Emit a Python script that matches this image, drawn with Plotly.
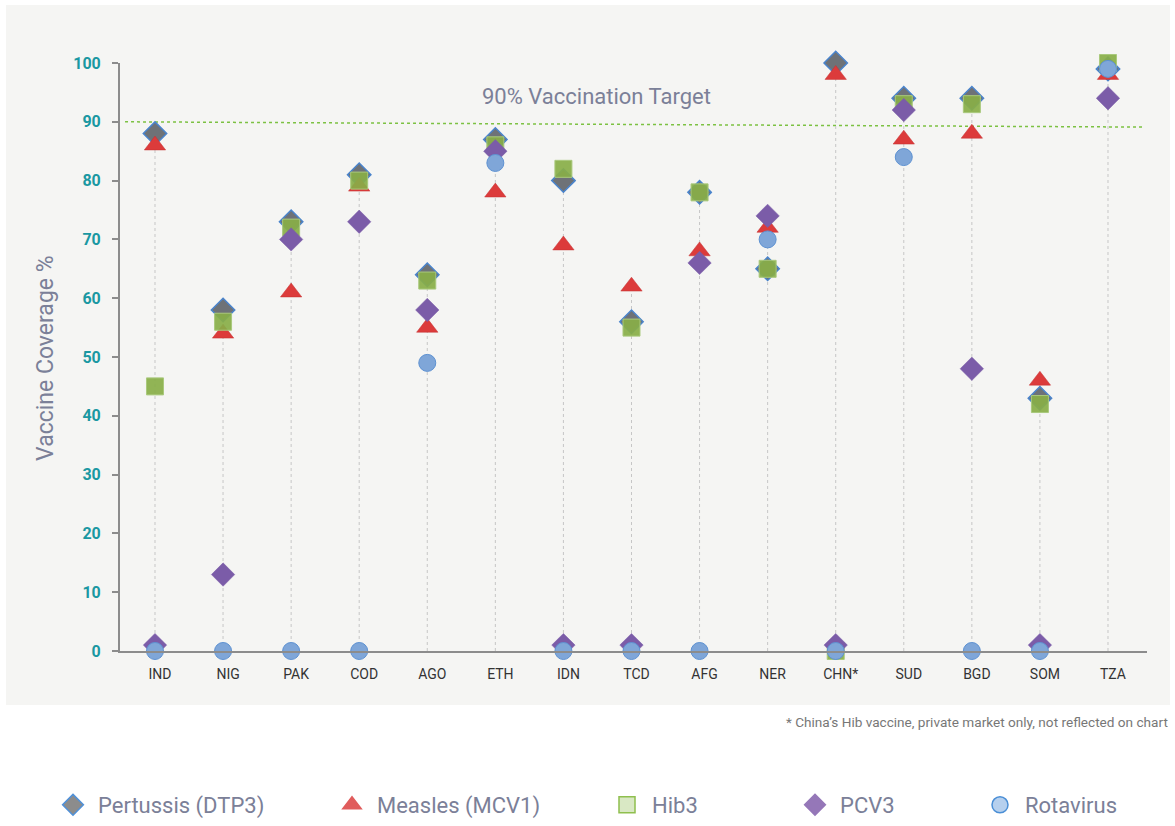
import plotly.graph_objects as go

countries = ["IND", "NIG", "PAK", "COD", "AGO", "ETH", "IDN", "TCD", "AFG", "NER", "CHN*", "SUD", "BGD", "SOM", "TZA"]
pertussis = [88, 58, 73, 81, 64, 87, 80, 56, 78, 65, 100, 94, 94, 43, 99]
measles = [86, 54, 61, 79, 55, 78, 69, 62, 68, 72, 98, 87, 88, 46, 98]
hib3 = [45, 56, 72, 80, 63, 86, 82, 55, 78, 65, 0, 93, 93, 42, 100]
pcv3 = [1, 13, 70, 73, 58, 85, 1, 1, 66, 74, 1, 92, 48, 1, 94]
rotavirus = [0, 0, 0, 0, 49, 83, 0, 0, 0, 70, 0, 84, 0, 0, 99]
y_ticks = [0, 10, 20, 30, 40, 50, 60, 70, 80, 90, 100]
target = 90

W, H = 1175, 826
def px(xp):
    return xp / W
def py(yp):
    return 1 - yp / H

TEXT_GREY = "#7b8098"
FONT = "Roboto"

fig = go.Figure()

# drop lines from highest value to zero
xs, ys = [], []
idx = list(range(len(countries)))
for i in idx:
    top = max(pertussis[i], measles[i], hib3[i], pcv3[i], rotavirus[i])
    xs += [i, i, None]
    ys += [0, top, None]
fig.add_trace(go.Scatter(x=xs, y=ys, mode="lines", showlegend=False, hoverinfo="skip",
                         line=dict(color="#c6c6c6", width=1, dash="dot")))

series = [
    ("Pertussis (DTP3)", pertussis, "diamond", 18, "#6e7277", "#4a84cc", 1.5,
     "#8c8c8c", "#4f90d8"),
    ("Measles (MCV1)", measles, "triangle-up", 18.5, "#dc3b3b", "#c43030", 0.5,
     "#e05c5c", "#e05c5c"),
    ("Hib3", hib3, "square", 17, "rgba(136,174,72,0.92)", "#a9c97c", 1,
     "#d9e8c4", "#8fbf4e"),
    ("PCV3", pcv3, "diamond", 18, "#7b5ca8", "#7b5ca8", 0.5,
     "#9577b8", "#9577b8"),
    ("Rotavirus", rotavirus, "circle", 17, "#7fa6d8", "#5e92d2", 1,
     "#b6d0ee", "#4b8fd6"),
]

legend_centers = [73, 352, 627, 815, 1000]
for k, (name, vals, sym, size, fill, edge, lw, lfill, ledge) in enumerate(series):
    fig.add_trace(go.Scatter(x=idx, y=vals, mode="markers", name=name, showlegend=False,
                             cliponaxis=False,
                             marker=dict(symbol=sym, size=size, color=fill,
                                         line=dict(color=edge, width=lw))))
    lg = "legend" if k == 0 else f"legend{k+1}"
    fig.add_trace(go.Scatter(x=[None], y=[None], mode="markers", name=name, legend=lg,
                             showlegend=True,
                             marker=dict(symbol=sym, size=16, color=lfill,
                                         line=dict(color=ledge, width=1.5))))

# target line
fig.add_shape(type="line", xref="x", yref="y", x0=-0.44, x1=14.54, y0=target, y1=target - 0.9,
              line=dict(color="#7cc142", width=1.5, dash="dot"), layer="below")

# background panel
fig.add_shape(type="rect", xref="paper", yref="paper", x0=px(6), x1=px(1170), y0=py(705), y1=py(5),
              fillcolor="#f5f5f3", line=dict(width=0), layer="below")

fig.add_annotation(x=px(596), y=py(96), xref="paper", yref="paper", xanchor="center", yanchor="middle",
                   text="90% Vaccination Target",
                   showarrow=False, font=dict(family=FONT, size=22, color=TEXT_GREY))
fig.add_annotation(x=px(45), y=py(358), xref="paper", yref="paper", xanchor="center", yanchor="middle",
                   text="Vaccine Coverage %",
                   textangle=-90, showarrow=False, font=dict(family=FONT, size=23, color=TEXT_GREY))
fig.add_annotation(x=px(1170), y=py(722), xref="paper", yref="paper", xanchor="right", yanchor="middle",
                   text="* China\u2019s Hib vaccine, private market only, not reflected on chart",
                   showarrow=False, font=dict(family=FONT, size=13.6, color="#777777"))

layout_legends = {}
for k, c in enumerate(legend_centers):
    key = "legend" if k == 0 else f"legend{k+1}"
    layout_legends[key] = dict(x=px(c - 25), y=py(805), xanchor="left", yanchor="middle",
                               orientation="h", bgcolor="rgba(0,0,0,0)", borderwidth=0,
                               itemwidth=40,
                               font=dict(family=FONT, size=22, color=TEXT_GREY))

fig.update_layout(
    width=W, height=H, autosize=False,
    margin=dict(l=0, r=0, t=0, b=0, pad=0, autoexpand=False),
    paper_bgcolor="white", plot_bgcolor="rgba(0,0,0,0)",
    font=dict(family=FONT),
    xaxis=dict(domain=[px(120), px(1147)], range=[-0.514, 14.573], tickmode="array",
               tickvals=idx, ticktext=countries, showgrid=False, zeroline=False,
               showline=True, linecolor="#8c8c8c", linewidth=2, ticks="", automargin=False,
               ticklabelshift=5, ticklabelstandoff=9,
               tickfont=dict(family=FONT, size=14, color="#333333")),
    yaxis=dict(domain=[py(651), py(63)], range=[0, 100], tickmode="array", tickvals=y_ticks,
               showgrid=False, zeroline=False, showline=True, linecolor="#8c8c8c", linewidth=2,
               ticks="outside", ticklen=6, tickcolor="#8c8c8c", tickwidth=1.5, automargin=False,
               ticklabelstandoff=8,
               tickfont=dict(family=FONT, size=16, color="#1a98a2", weight="bold")),
    **layout_legends,
)

fig.write_html("out.html", config={"displayModeBar": False},
               post_script="document.body.style.margin='0px';")
